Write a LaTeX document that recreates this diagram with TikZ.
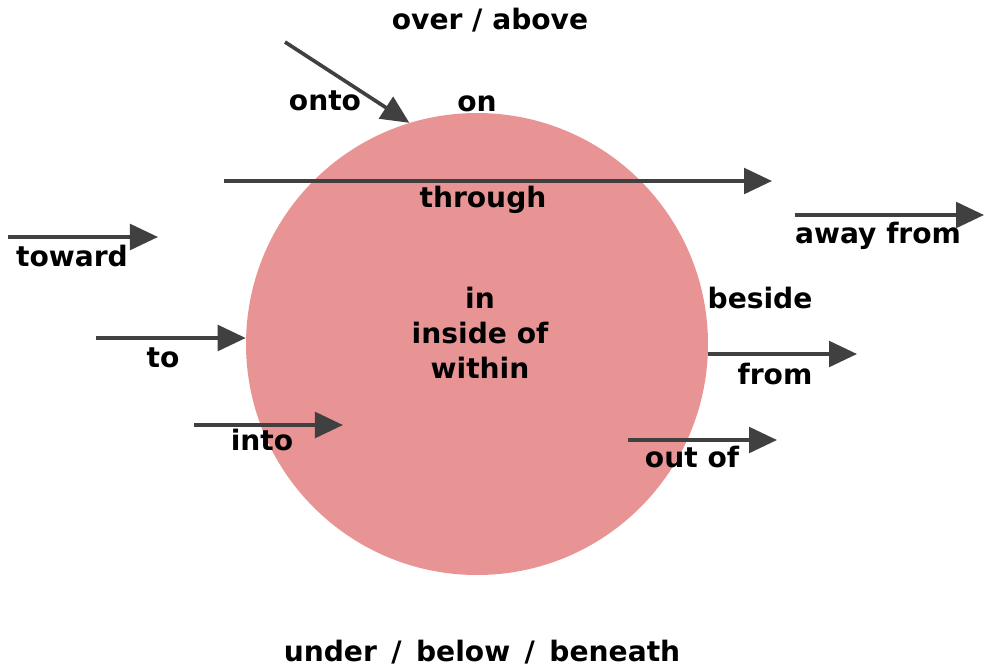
\documentclass[tikz,border=0pt]{standalone}
\usepackage{fontspec}
\setmainfont{DejaVu Sans}
\usepackage{tikz}
\usetikzlibrary{arrows.meta, positioning}
\definecolor{ballpink}{HTML}{E99494}
\definecolor{arrowgray}{HTML}{404040}

\begin{document}
\begin{tikzpicture}[x=0.025cm, y=-0.025cm,
            word/.style={font=\bfseries\fontsize{20}{25}\selectfont, text=black, inner sep=0pt, align=center},
            arrow/.style={-{Triangle[length=0.7cm, width=0.64cm]}, line width=2.6pt, arrowgray}
        ]
            \useasboundingbox (0,0) rectangle (984,667);
            \node[circle, fill=ballpink, minimum size=462*0.025cm, inner sep=0pt] (ball) at (477,344) {};

            % words
            \node[word] (above) at (490,20) {over / above};
            \node[word] (below) at (482,652) {under \,/\, below \,/\, beneath};
            \node[word] (onto) at (325,101) {onto};
            \node[word] (on) at (477,104) {on};
            \node[word] (through) at (483,200) {through};
            \node[word] (toward) at (72,256) {toward};
            \node[word] (awayfrom) at (878,236) {away from};
            \node[word] (in) at (480,333) {in\\inside of\\within};
            \node[word] (beside) at (760,298) {beside};
            \node[word] (to) at (163,358) {to};
            \node[word] (from) at (775,374) {from};
            \node[word] (into) at (262,440) {into};
            \node[word] (outof) at (692,457) {out of};

            % arrow ends
            \coordinate (onto-s) at (285,42);
            \coordinate (through-s) at (224,181);
            \coordinate (through-e) at (772,181);
            \coordinate (toward-s) at (8,237);
            \coordinate (toward-e) at (158,237);
            \coordinate (away-s) at (795,215);
            \coordinate (away-e) at (984,215);
            \coordinate (to-s) at (96,338);
            \coordinate (from-e) at (857,354);
            \coordinate (into-s) at (194,425);
            \coordinate (into-e) at (343,425);
            \coordinate (outof-s) at (628,440);
            \coordinate (outof-e) at (777,440);

            \draw[arrow] (onto-s) -- (ball.107);
            \draw[arrow] (through-s) -- (through-e);
            \draw[arrow] (toward-s) -- (toward-e);
            \draw[arrow] (away-s) -- (away-e);
            \draw[arrow] (to-s) -- (to-s -| ball.west);
            \draw[arrow] (ball.east |- from-e) -- (from-e);
            \draw[arrow] (into-s) -- (into-e);
            \draw[arrow] (outof-s) -- (outof-e);
        \end{tikzpicture}
\end{document}
